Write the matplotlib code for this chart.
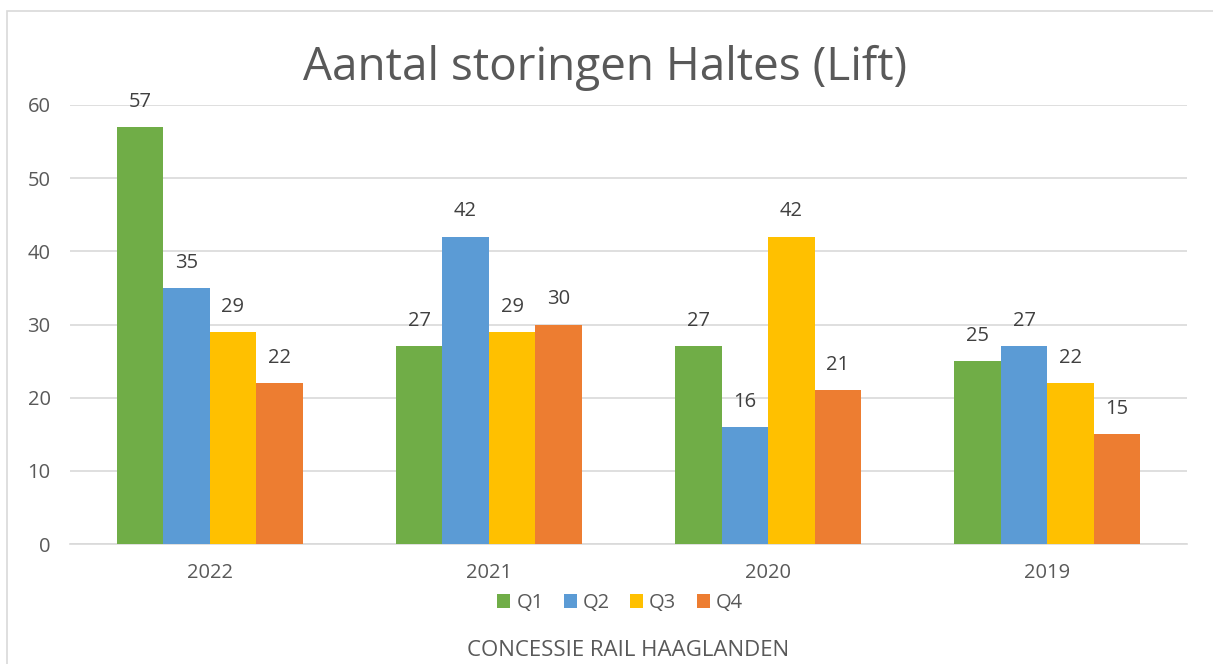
import matplotlib.pyplot as plt
import numpy as np
from matplotlib.patches import Rectangle

years = ['2022', '2021', '2020', '2019']
quarters = ['Q1', 'Q2', 'Q3', 'Q4']
q1 = [57, 27, 27, 25]
q2 = [35, 42, 16, 27]
q3 = [29, 29, 42, 22]
q4 = [22, 30, 21, 15]
colors = ['#70AD47', '#5B9BD5', '#FFC000', '#ED7D31']
textcol = '#595959'

plt.rcParams['font.family'] = ['Open Sans', 'DejaVu Sans']

fig = plt.figure(figsize=(12.13, 6.64), dpi=100)
ax = fig.add_axes([70 / 1213, 1 - 544 / 664, 1117 / 1213, 439 / 664])

# chart border
fig.patches.append(Rectangle((7 / 1213, -0.1), 1.2, 1 - 11 / 664 + 0.1,
                             transform=fig.transFigure, fill=False,
                             edgecolor='#D9D9D9', linewidth=1.2))

x = np.arange(len(years))
w = 1 / 6
for i, (vals, c, q) in enumerate(zip([q1, q2, q3, q4], colors, quarters)):
    pos = x + (i - 1.5) * w
    ax.bar(pos, vals, width=w, color=c, label=q, zorder=3)
    for p, v in zip(pos, vals):
        ax.annotate(str(v), (p, v), xytext=(0, 11), textcoords='offset points',
                    ha='center', va='bottom', fontsize=14.5, color='#404040')

ax.set_xlim(-0.5, 3.5)
ax.set_ylim(0, 60)
ax.set_yticks(range(0, 61, 10))
ax.set_xticks(x)
ax.set_xticklabels(years)
ax.yaxis.grid(True, color='#D9D9D9', linewidth=1.2, zorder=0)
for s in ['top', 'right', 'left']:
    ax.spines[s].set_visible(False)
ax.spines['bottom'].set_color('#D9D9D9')
ax.spines['bottom'].set_linewidth(1.2)
ax.tick_params(axis='both', length=0, labelsize=14.5, colors=textcol)
ax.tick_params(axis='y', pad=14)
ax.tick_params(axis='x', pad=14)

fig.text(605 / 1213, 1 - 68 / 664, 'Aantal storingen Haltes (Lift)',
         ha='center', va='center', fontsize=33, color=textcol)

leg = fig.legend(loc='center', bbox_to_anchor=(620 / 1213, 1 - 603 / 664),
                 ncol=4, frameon=False, fontsize=14.5, handlelength=0.65,
                 handleheight=0.65, columnspacing=1.0, handletextpad=0.3)
for t in leg.get_texts():
    t.set_color(textcol)

fig.text(628 / 1213, 1 - 651 / 664, 'CONCESSIE RAIL HAAGLANDEN',
         ha='center', va='center', fontsize=16, color=textcol)

fig.savefig('out.png', dpi=100)
